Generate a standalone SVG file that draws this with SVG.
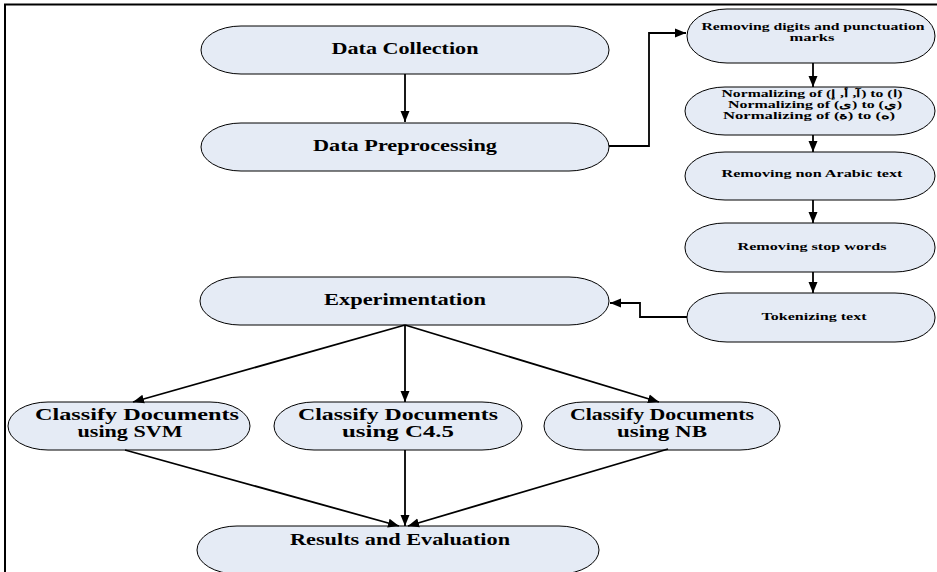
<svg xmlns="http://www.w3.org/2000/svg" width="937" height="572" viewBox="0 0 937 572">
<style>
.n{fill:#E5EBF5;stroke:#000;stroke-width:1}
.t{font-family:"Liberation Serif","Times New Roman",serif;font-weight:bold;fill:#000;text-anchor:middle}
.b{font-size:16px}
.s{font-size:11px}
.r{font-size:10px}
.c{fill:none;stroke:#000;stroke-width:1.8}
</style>
<defs>
<marker id="ah" markerUnits="userSpaceOnUse" markerWidth="12" markerHeight="12" viewBox="0 0 12 12" refX="11" refY="6" orient="auto">
<path d="M0,1.5 L11,6 L0,10.5 Z" fill="#000"/>
</marker>
</defs>
<rect x="5" y="4.5" width="950" height="600" fill="#fff" stroke="#000" stroke-width="2"/>

<g id="data-collection"><rect class="n" x="201" y="26" width="408" height="48" rx="40" ry="24"/><text class="t b" x="405" y="54" textLength="147" lengthAdjust="spacingAndGlyphs">Data Collection</text></g>
<g id="data-preprocessing"><rect class="n" x="201" y="123" width="408" height="48" rx="40" ry="24"/><text class="t b" x="405" y="151" textLength="184" lengthAdjust="spacingAndGlyphs">Data Preprocessing</text></g>
<g id="experimentation"><rect class="n" x="200" y="277" width="409" height="48" rx="40" ry="24"/><text class="t b" x="405" y="305" textLength="162" lengthAdjust="spacingAndGlyphs">Experimentation</text></g>
<g id="svm"><rect class="n" x="8" y="402" width="242" height="48" rx="40" ry="24"/><text class="t b" x="137" y="420" textLength="204" lengthAdjust="spacingAndGlyphs">Classify Documents</text><text class="t b" x="130" y="437" textLength="105" lengthAdjust="spacingAndGlyphs">using SVM</text></g>
<g id="c45"><rect class="n" x="274" y="402" width="248" height="48" rx="40" ry="24"/><text class="t b" x="398" y="420" textLength="200" lengthAdjust="spacingAndGlyphs">Classify Documents</text><text class="t b" x="398" y="437" textLength="112" lengthAdjust="spacingAndGlyphs">using C4.5</text></g>
<g id="nb"><rect class="n" x="544" y="402" width="236" height="48" rx="40" ry="24"/><text class="t b" x="662" y="420" textLength="184" lengthAdjust="spacingAndGlyphs">Classify Documents</text><text class="t b" x="662" y="437" textLength="90" lengthAdjust="spacingAndGlyphs">using  NB</text></g>
<g id="results"><rect class="n" x="197" y="526" width="402" height="48" rx="40" ry="24"/><text class="t b" x="400" y="545" textLength="220" lengthAdjust="spacingAndGlyphs">Results and Evaluation</text></g>

<g id="removing-digits"><rect class="n" x="687" y="9" width="248" height="54" rx="40" ry="27"/><text class="t s" x="813" y="30" textLength="223" lengthAdjust="spacingAndGlyphs">Removing digits and punctuation</text><text class="t s" x="812" y="41" textLength="45" lengthAdjust="spacingAndGlyphs">marks</text></g>
<g id="normalizing"><rect class="n" x="685" y="87" width="250" height="48" rx="40" ry="24"/><text class="t r" x="812" y="97" textLength="181" lengthAdjust="spacingAndGlyphs">Normalizing of (آ, أ, إ) to (ا)</text><text class="t r" x="815" y="108" textLength="174" lengthAdjust="spacingAndGlyphs">Normalizing of (ى) to (ي)</text><text class="t r" x="809" y="119" textLength="172" lengthAdjust="spacingAndGlyphs">Normalizing of (ة) to (ه)</text></g>
<g id="non-arabic"><rect class="n" x="685" y="152" width="250" height="48" rx="40" ry="24"/><text class="t s" x="812" y="177" textLength="181" lengthAdjust="spacingAndGlyphs">Removing non Arabic text</text></g>
<g id="stop-words"><rect class="n" x="685" y="223" width="250" height="49" rx="40" ry="24"/><text class="t s" x="812" y="250" textLength="149" lengthAdjust="spacingAndGlyphs">Removing stop words</text></g>
<g id="tokenizing"><rect class="n" x="687" y="293" width="248" height="49" rx="40" ry="24"/><text class="t s" x="814" y="320" textLength="105" lengthAdjust="spacingAndGlyphs">Tokenizing text</text></g>

<g id="connectors">
<path class="c" d="M405,74 V122" marker-end="url(#ah)"/>
<path class="c" d="M609,146 H649 V33 H686" marker-end="url(#ah)"/>
<path class="c" d="M813,63 V87" marker-end="url(#ah)"/>
<path class="c" d="M813,135 V152" marker-end="url(#ah)"/>
<path class="c" d="M813,200 V223" marker-end="url(#ah)"/>
<path class="c" d="M813,272 V293" marker-end="url(#ah)"/>
<path class="c" d="M687,317 H640 V303 H610" marker-end="url(#ah)"/>
<path class="c" d="M405,325 L133,402" marker-end="url(#ah)"/>
<path class="c" d="M405,325 V402" marker-end="url(#ah)"/>
<path class="c" d="M405,325 L659,402" marker-end="url(#ah)"/>
<path class="c" d="M125,450 L399,526" marker-end="url(#ah)"/>
<path class="c" d="M405,450 V526" marker-end="url(#ah)"/>
<path class="c" d="M668,449 L408,526" marker-end="url(#ah)"/>
</g>
</svg>
